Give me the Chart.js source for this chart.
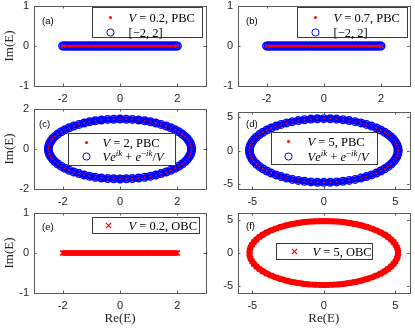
<!DOCTYPE html>
<html>
<head>
<meta charset="utf-8">
<script src="https://cdn.jsdelivr.net/npm/chart.js@4.4.1/dist/chart.umd.min.js"></script>
<style>
body { margin: 0; background: #fff; }
#wrap { position: relative; width: 415px; height: 329px; }
#wrap canvas { position: absolute; left: 0; top: 0; }
</style>
</head>
<body>
<div id="wrap"></div>
<script>
// eigenvalues lying on the real axis, Re(E) (Im(E) = 0)
var lineRe = [-2.00,-1.95,-1.90,-1.85,-1.80,-1.75,-1.70,-1.65,-1.60,-1.55,-1.50,-1.45,-1.40,-1.35,-1.30,-1.25,-1.20,-1.15,-1.10,-1.05,
  -1.00,-0.95,-0.90,-0.85,-0.80,-0.75,-0.70,-0.65,-0.60,-0.55,-0.50,-0.45,-0.40,-0.35,-0.30,-0.25,-0.20,-0.15,-0.10,-0.05,
  0,0.05,0.10,0.15,0.20,0.25,0.30,0.35,0.40,0.45,0.50,0.55,0.60,0.65,0.70,0.75,0.80,0.85,0.90,0.95,
  1.00,1.05,1.10,1.15,1.20,1.25,1.30,1.35,1.40,1.45,1.50,1.55,1.60,1.65,1.70,1.75,1.80,1.85,1.90,1.95,2.00];

// V = 2 loop
var ring2Re = [2.50,2.49,2.46,2.41,2.35,2.27,2.17,2.05,1.92,1.77,1.61,1.43,1.25,1.06,0.86,0.65,0.43,0.22,
  0,-0.22,-0.43,-0.65,-0.86,-1.06,-1.25,-1.43,-1.61,-1.77,-1.92,-2.05,-2.17,-2.27,-2.35,-2.41,-2.46,-2.49,
  -2.50,-2.49,-2.46,-2.41,-2.35,-2.27,-2.17,-2.05,-1.92,-1.77,-1.61,-1.43,-1.25,-1.06,-0.86,-0.65,-0.43,-0.22,
  0,0.22,0.43,0.65,0.86,1.06,1.25,1.43,1.61,1.77,1.92,2.05,2.17,2.27,2.35,2.41,2.46,2.49,2.50];
var ring2Im = [0,0.13,0.26,0.39,0.51,0.63,0.75,0.86,0.96,1.06,1.15,1.23,1.30,1.36,1.41,1.45,1.48,1.49,
  1.50,1.49,1.48,1.45,1.41,1.36,1.30,1.23,1.15,1.06,0.96,0.86,0.75,0.63,0.51,0.39,0.26,0.13,
  0,-0.13,-0.26,-0.39,-0.51,-0.63,-0.75,-0.86,-0.96,-1.06,-1.15,-1.23,-1.30,-1.36,-1.41,-1.45,-1.48,-1.49,
  -1.50,-1.49,-1.48,-1.45,-1.41,-1.36,-1.30,-1.23,-1.15,-1.06,-0.96,-0.86,-0.75,-0.63,-0.51,-0.39,-0.26,-0.13,0];

// V = 5 loop (d) and (f)
var ring5Re = [5.20,5.18,5.12,5.02,4.89,4.71,4.50,4.26,3.98,3.68,3.34,2.98,2.60,2.20,1.78,1.35,0.90,0.45,
  0,-0.45,-0.90,-1.35,-1.78,-2.20,-2.60,-2.98,-3.34,-3.68,-3.98,-4.26,-4.50,-4.71,-4.89,-5.02,-5.12,-5.18,
  -5.20,-5.18,-5.12,-5.02,-4.89,-4.71,-4.50,-4.26,-3.98,-3.68,-3.34,-2.98,-2.60,-2.20,-1.78,-1.35,-0.90,-0.45,
  0,0.45,0.90,1.35,1.78,2.20,2.60,2.98,3.34,3.68,3.98,4.26,4.50,4.71,4.89,5.02,5.12,5.18,5.20];
var ring5Im = [0,0.42,0.83,1.24,1.64,2.03,2.40,2.75,3.09,3.39,3.68,3.93,4.16,4.35,4.51,4.64,4.73,4.78,
  4.80,4.78,4.73,4.64,4.51,4.35,4.16,3.93,3.68,3.39,3.09,2.75,2.40,2.03,1.64,1.24,0.83,0.42,
  0,-0.42,-0.83,-1.24,-1.64,-2.03,-2.40,-2.75,-3.09,-3.39,-3.68,-3.93,-4.16,-4.35,-4.51,-4.64,-4.73,-4.78,
  -4.80,-4.78,-4.73,-4.64,-4.51,-4.35,-4.16,-3.93,-3.68,-3.39,-3.09,-2.75,-2.40,-2.03,-1.64,-1.24,-0.83,-0.42,0];

var ticks1 = [-1, 0, 1];
var ticks2 = [-2, 0, 2];
var ticks5 = [-5, 0, 5];

// legend labels: [text, style]  i = italic, s = superscript, si = italic superscript
var lblA = [['V','i'],[' = 0.2, PBC','n']];
var lblB = [['V','i'],[' = 0.7, PBC','n']];
var lblC = [['V','i'],[' = 2, PBC','n']];
var lblD = [['V','i'],[' = 5, PBC','n']];
var lblE = [['V','i'],[' = 0.2, OBC','n']];
var lblF = [['V','i'],[' = 5, OBC','n']];
var lblBand = [['[\u22122, 2]','n']];
var lblLoop = [['V','i'],['e','i'],['ik','si'],[' + ','n'],['e','i'],['\u2212','s'],['ik','si'],['/','n'],['V','i']];

var red = 'rgb(255,0,0)', blue = 'rgb(0,0,255)';
var axisColor = '#5a5a5a';
var serif = '"Liberation Serif", "Times New Roman", serif';
var sans = '"Liberation Sans", Arial, sans-serif';

function pts(re, im) {
  return re.map(function (v, i) { return {x: v, y: im ? im[i] : 0}; });
}
function dots(re, im, r) {
  return {data: pts(re, im), showLine: false, pointStyle: 'circle', pointRadius: r,
    pointBackgroundColor: red, pointBorderWidth: 0};
}
// open circles; band > 0 also joins them so the loop reads as one thick ring
function rings(re, im, band) {
  return {data: pts(re, im), showLine: band > 0, borderColor: blue, borderWidth: band, tension: 0,
    pointStyle: 'circle', pointRadius: 3.8,
    pointBackgroundColor: 'rgba(0,0,0,0)', pointBorderColor: blue, pointBorderWidth: 1.4};
}
function crosses(re, im, band) {
  return {data: pts(re, im), showLine: true, borderColor: red, borderWidth: band, tension: 0,
    pointStyle: 'crossRot', pointRadius: 3.6, pointBorderColor: red, pointBorderWidth: 1.5};
}

var panels = [
  {tag: '(a)', tagPos: [8, 15], area: [34, 6, 206, 86], xr: [-3, 3], yr: [-1, 1], xt: ticks2, yt: ticks1,
   yTitle: true, xTitle: false, sets: [dots(lineRe, null, 1.3), rings(lineRe, null, 0)],
   legend: {x: 58, y: 1, w: 110, h: 30, mx: 18, tx: 36, rows: [{mark: 'dot', y: 10, text: lblA}, {mark: 'ring', y: 25, text: lblBand}]}},
  {tag: '(b)', tagPos: [8, 15], area: [238, 6, 410, 86], xr: [-3, 3], yr: [-1, 1], xt: ticks2, yt: ticks1,
   yTitle: false, xTitle: false, sets: [dots(lineRe, null, 1.3), rings(lineRe, null, 0)],
   legend: {x: 59, y: 1, w: 110, h: 30, mx: 18, tx: 36, rows: [{mark: 'dot', y: 10, text: lblB}, {mark: 'ring', y: 25, text: lblBand}]}},
  {tag: '(c)', tagPos: [5, 15], area: [34, 109, 206, 189], xr: [-3, 3], yr: [-2, 2], xt: ticks2, yt: ticks2,
   yTitle: true, xTitle: false, sets: [dots(ring2Re, ring2Im, 0.9), rings(ring2Re, ring2Im, 6)],
   legend: {x: 34, y: 24, w: 107, h: 32, mx: 18, tx: 34, rows: [{mark: 'dot', y: 9, text: lblC}, {mark: 'ring', y: 23, text: lblLoop}]}},
  {tag: '(d)', tagPos: [8, 12], area: [238, 112, 410, 189], xr: [-6, 6], yr: [-5.8, 5.8], xt: ticks5, yt: ticks5,
   yTitle: false, xTitle: false, sets: [dots(ring5Re, ring5Im, 0.9), rings(ring5Re, ring5Im, 6)],
   legend: {x: 33, y: 20, w: 106, h: 32, mx: 17, tx: 36, rows: [{mark: 'dot', y: 9, text: lblD}, {mark: 'ring', y: 24, text: lblLoop}]}},
  {tag: '(e)', tagPos: [8, 14], area: [34, 213, 206, 293], xr: [-3, 3], yr: [-1, 1], xt: ticks2, yt: ticks1,
   yTitle: true, xTitle: true, sets: [crosses(lineRe, null, 5)],
   legend: {x: 58, y: 4, w: 107, h: 16, mx: 16, tx: 36, rows: [{mark: 'cross', y: 8, text: lblE}]}},
  {tag: '(f)', tagPos: [8, 13], area: [238, 213, 410, 293], xr: [-6, 6], yr: [-6, 6], xt: ticks5, yt: ticks5,
   yTitle: false, xTitle: true, sets: [crosses(ring5Re, ring5Im, 6)],
   legend: {x: 38, y: 30, w: 96, h: 16, mx: 18, tx: 36, rows: [{mark: 'cross', y: 8, text: lblF}]}}
];

function drawMark(ctx, kind, x, y) {
  ctx.save();
  if (kind === 'dot') {
    ctx.fillStyle = red;
    ctx.beginPath(); ctx.arc(x, y, 1.5, 0, Math.PI * 2); ctx.fill();
  } else if (kind === 'ring') {
    ctx.strokeStyle = blue; ctx.lineWidth = 1;
    ctx.beginPath(); ctx.arc(x, y, 3.6, 0, Math.PI * 2); ctx.stroke();
  } else {
    ctx.strokeStyle = red; ctx.lineWidth = 1.2;
    ctx.beginPath();
    ctx.moveTo(x - 2.6, y - 2.6); ctx.lineTo(x + 2.6, y + 2.6);
    ctx.moveTo(x - 2.6, y + 2.6); ctx.lineTo(x + 2.6, y - 2.6);
    ctx.stroke();
  }
  ctx.restore();
}

function drawRich(ctx, segs, x, cy) {
  var base = cy + 4;
  ctx.fillStyle = '#000';
  ctx.textBaseline = 'alphabetic';
  ctx.textAlign = 'left';
  segs.forEach(function (s) {
    var sup = s[1] === 's' || s[1] === 'si';
    var ital = s[1] === 'i' || s[1] === 'si';
    ctx.font = (ital ? 'italic ' : '') + (sup ? '9px ' : '12.5px ') + serif;
    ctx.fillText(s[0], x, sup ? base - 5 : base);
    x += ctx.measureText(s[0]).width;
  });
}

function drawLegend(ctx, a, lg) {
  var x0 = Math.round(a.left + lg.x) + 0.5, y0 = Math.round(a.top + lg.y) + 0.5;
  ctx.fillStyle = '#fff';
  ctx.fillRect(x0, y0, lg.w, lg.h);
  ctx.strokeStyle = '#3a3a3a'; ctx.lineWidth = 1;
  ctx.strokeRect(x0, y0, lg.w, lg.h);
  lg.rows.forEach(function (r) {
    drawMark(ctx, r.mark, x0 + lg.mx, y0 + r.y);
    drawRich(ctx, r.text, x0 + lg.tx, y0 + r.y);
  });
}

// box, inward ticks, panel tag and legend
function framePlugin(p) {
  return {
    id: 'frame',
    afterDraw: function (chart) {
      var ctx = chart.ctx, a = chart.chartArea, xs = chart.scales.x, ys = chart.scales.y;
      ctx.save();
      ctx.strokeStyle = axisColor; ctx.lineWidth = 1;
      ctx.beginPath();
      p.xt.forEach(function (v) {
        var px = Math.round(xs.getPixelForValue(v)) + 0.5;
        ctx.moveTo(px, a.bottom); ctx.lineTo(px, a.bottom - 2.5);
        ctx.moveTo(px, a.top); ctx.lineTo(px, a.top + 2.5);
      });
      p.yt.forEach(function (v) {
        var py = Math.round(ys.getPixelForValue(v)) + 0.5;
        ctx.moveTo(a.left, py); ctx.lineTo(a.left + 2.5, py);
        ctx.moveTo(a.right, py); ctx.lineTo(a.right - 2.5, py);
      });
      ctx.stroke();
      ctx.strokeRect(Math.round(a.left) + 0.5, Math.round(a.top) + 0.5,
        Math.round(a.right - a.left), Math.round(a.bottom - a.top));
      ctx.fillStyle = '#000';
      ctx.font = '9.5px ' + sans;
      ctx.textBaseline = 'middle';
      ctx.textAlign = 'left';
      ctx.fillText(p.tag, a.left + p.tagPos[0], a.top + p.tagPos[1]);
      drawLegend(ctx, a, p.legend);
      ctx.restore();
    }
  };
}

var wrap = document.getElementById('wrap');
panels.forEach(function (p) {
  var cv = document.createElement('canvas');
  cv.width = 415; cv.height = 329;
  wrap.appendChild(cv);
  var yW = p.yTitle ? 34 : 20;
  var xH = p.xTitle ? 34 : 22;
  new Chart(cv.getContext('2d'), {
    type: 'scatter',
    data: {datasets: p.sets},
    options: {
      responsive: false,
      animation: false,
      events: [],
      layout: {padding: {left: p.area[0] - yW, top: p.area[1], right: 415 - p.area[2], bottom: 329 - p.area[3] - xH}},
      plugins: {legend: {display: false}, tooltip: {enabled: false}},
      scales: {
        x: {
          type: 'linear', position: 'bottom', min: p.xr[0], max: p.xr[1],
          afterBuildTicks: function (s) { s.ticks = p.xt.map(function (v) { return {value: v}; }); },
          afterFit: function (s) { s.height = xH; s.paddingLeft = 0; s.paddingRight = 0; },
          grid: {display: false, drawTicks: false},
          border: {display: false},
          ticks: {font: {family: sans, size: 11}, color: '#262626', padding: 6, maxRotation: 0},
          title: {display: p.xTitle, text: 'Re(E)', font: {family: serif, size: 13}, color: '#262626', padding: {top: 0, bottom: 1}}
        },
        y: {
          type: 'linear', position: 'left', min: p.yr[0], max: p.yr[1],
          afterBuildTicks: function (s) { s.ticks = p.yt.map(function (v) { return {value: v}; }); },
          afterFit: function (s) { s.width = yW; s.paddingTop = 0; s.paddingBottom = 0; },
          grid: {display: false, drawTicks: false},
          border: {display: false},
          ticks: {font: {family: sans, size: 11}, color: '#262626', padding: 5},
          title: {display: p.yTitle, text: 'Im(E)', font: {family: serif, size: 13}, color: '#262626', padding: {top: 2, bottom: 0}}
        }
      }
    },
    plugins: [framePlugin(p)]
  });
});
</script>
</body>
</html>
